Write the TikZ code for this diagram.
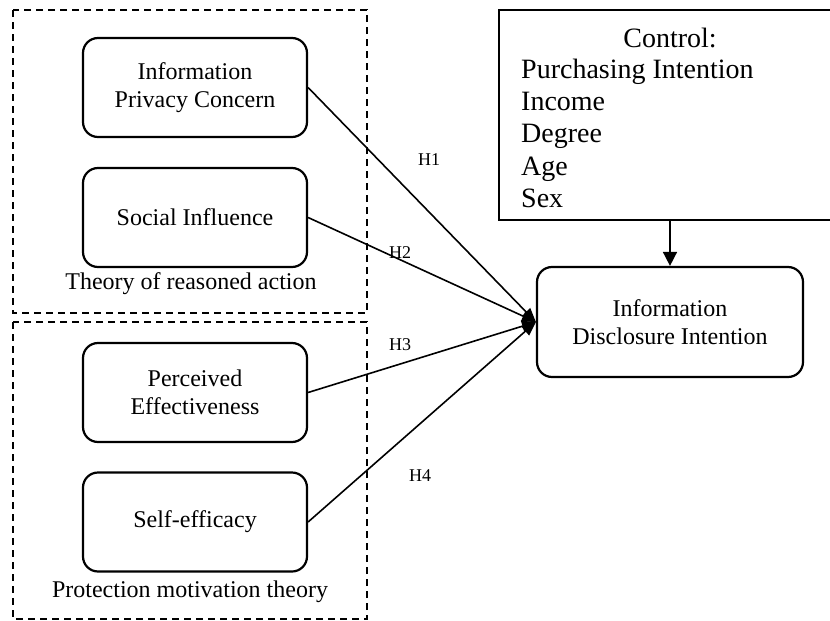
\documentclass[tikz,border=0pt]{standalone}
\usepackage{fontspec}
\setmainfont{Liberation Serif}
\usetikzlibrary{arrows.meta}
\begin{document}
\begin{tikzpicture}[x=1pt,y=-1pt,
  concept/.style={draw, line width=2.2pt, rounded corners=15pt, minimum width=224pt, minimum height=99pt, align=center, font=\fontsize{24}{28}\selectfont, inner sep=0pt},
  group/.style={draw, line width=1.5pt, dash pattern=on 7pt off 5pt},
  link/.style={line width=1.6pt, -{Triangle[length=14pt,width=11pt]}},
  ctrlarrow/.style={line width=1.6pt, -{Triangle[length=14pt,width=14pt]}},
  hlab/.style={font=\fontsize{18}{20}\selectfont, anchor=base, inner sep=0pt},
  glab/.style={font=\fontsize{24}{28}\selectfont, anchor=base, inner sep=0pt},
  ctl/.style={font=\fontsize{28}{32}\selectfont, inner sep=0pt}]
\clip (0,0) rectangle (830,621);
% group frames
\draw[group] (13,10) rectangle (367,313);
\draw[group] (13,322) rectangle (367,619);
% concepts
\node[concept] (ipc) at (195,87.5) {Information\\Privacy Concern};
\node[concept] (si) at (195,217.5) {Social Influence};
\node[concept] (pe) at (195,392.5) {Perceived\\Effectiveness};
\node[concept] (se) at (195,522) {Self-efficacy};
\node[glab] (tra) at (191,289) {Theory of reasoned action};
\node[glab] (pmt) at (190,597) {Protection motivation theory};
% control box
\node[draw, line width=2.5pt, minimum width=342pt, minimum height=210pt, inner sep=0pt] (ctrl) at (670,115) {};
\node[ctl, anchor=base] (ct) at (670,47) {Control:};
\node[ctl, anchor=base west] (c1) at (521,78) {Purchasing Intention};
\node[ctl, anchor=base west] (c2) at (521,110) {Income};
\node[ctl, anchor=base west] (c3) at (521,142) {Degree};
\node[ctl, anchor=base west] (c4) at (521,175) {Age};
\node[ctl, anchor=base west] (c5) at (521,207) {Sex};
% outcome
\node[concept, minimum width=266pt, minimum height=110pt] (idi) at (670,322) {Information\\Disclosure Intention};
% connectors
\draw[ctrlarrow] (ctrl.south) -- (idi.north);
\draw[link] (ipc.east) -- (idi.west);
\draw[link] (si.east) -- (idi.west);
\draw[link] (pe.east) -- (idi.west);
\draw[link] (se.east) -- (idi.west);
% hypothesis labels
\node[hlab] (h1) at (429,165) {H1};
\node[hlab] (h2) at (400,258) {H2};
\node[hlab] (h3) at (400,350) {H3};
\node[hlab] (h4) at (420,481) {H4};
\end{tikzpicture}
\end{document}
